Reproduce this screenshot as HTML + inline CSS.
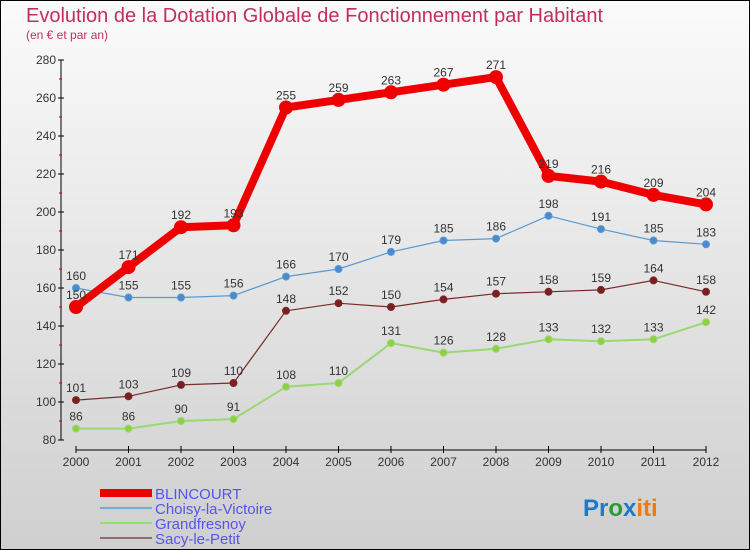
<!DOCTYPE html>
<html><head><meta charset="utf-8"><style>
body{margin:0;}
svg{display:block;font-family:"Liberation Sans",sans-serif;}
</style></head><body>
<svg id="c" width="750" height="550" viewBox="0 0 750 550">
<defs><linearGradient id="bg" x1="0" y1="0" x2="0" y2="1"><stop offset="0" stop-color="#fbfbfb"/><stop offset="1" stop-color="#cfcfcf"/></linearGradient></defs>
<rect x="0.5" y="0.5" width="749" height="549" fill="url(#bg)" stroke="#000"/>
<text x="26" y="22" font-size="20" fill="#c0305a">Evolution de la Dotation Globale de Fonctionnement par Habitant</text>
<text x="26" y="39" font-size="12" fill="#c0305a">(en € et par an)</text>
<g id="axes"></g>
<g id="series"></g>
<g>
<rect x="100" y="489" width="52" height="8" fill="#e00"/>
<text x="155" y="499" font-size="15" fill="#5555ee">BLINCOURT</text>
<line x1="100" y1="508" x2="152" y2="508" stroke="#7aaad0" stroke-width="2"/>
<text x="155" y="514" font-size="15" fill="#5555ee">Choisy-la-Victoire</text>
<line x1="100" y1="523" x2="152" y2="523" stroke="#90dd70" stroke-width="2"/>
<text x="155" y="529" font-size="15" fill="#5555ee">Grandfresnoy</text>
<line x1="100" y1="538" x2="152" y2="538" stroke="#9a6a6a" stroke-width="2"/>
<text x="155" y="544" font-size="15" fill="#5555ee">Sacy-le-Petit</text>
</g>
<text x="583" y="516" font-size="24" font-weight="bold"><tspan fill="#1a7ad0">Pr</tspan><tspan fill="#2a9a3a">o</tspan><tspan fill="#1a7ad0">x</tspan><tspan fill="#f07a10">iti</tspan></text>
</svg>
<script>
const years=[2000,2001,2002,2003,2004,2005,2006,2007,2008,2009,2010,2011,2012];
const yTicks=[80,100,120,140,160,180,200,220,240,260,280];
const blincourt=[150,171,192,193,255,259,263,267,271,219,216,209,204];
const choisy=[160,155,155,156,166,170,179,185,186,198,191,185,183];
const grandfresnoy=[86,86,90,91,108,110,131,126,128,133,132,133,142];
const sacy=[101,103,109,110,148,152,150,154,157,158,159,164,158];
const NS="http://www.w3.org/2000/svg";
function xs(i){return 76+i*(706-76)/(years.length-1);}
function ys(v){return 440-(v-80)*(380/200);}
function mk(t,a,p){const e=document.createElementNS(NS,t);for(const k in a)e.setAttribute(k,a[k]);p.appendChild(e);return e;}
const ax=document.getElementById('axes');
const yl=mk('line',{x1:61,y1:60,x2:61,y2:440,stroke:'#000'},ax);


yTicks.forEach(v=>{
 mk('line',{x1:58,x2:64,y1:ys(v),y2:ys(v),stroke:'#000'},ax);
 if(v<280) mk('line',{x1:59,x2:62,y1:ys(v+10),y2:ys(v+10),stroke:'#c00'},ax);
 const t=mk('text',{x:56,y:ys(v)+4,'font-size':12,'text-anchor':'end',fill:'#333'},ax);
 t.textContent=v;
 
 
});
const xl=mk('line',{x1:76,y1:450,x2:706,y2:450,stroke:'#000'},ax);


years.forEach((y,i)=>{
 mk('line',{x1:xs(i),x2:xs(i),y1:446,y2:453,stroke:'#000'},ax);
 const t=mk('text',{x:xs(i),y:466,'font-size':12,'text-anchor':'middle',fill:'#333'},ax);
 t.textContent=y;
 
 
});
const sg=document.getElementById('series');
function series(vals,color,w,r,dot,name){
 const g=mk('g',{},sg);
 
 
 const l=mk('polyline',{points:vals.map((v,i)=>xs(i)+','+ys(v)).join(' '),fill:'none',stroke:color,'stroke-width':w,'stroke-linejoin':'round'},g);
 
 
 vals.forEach((v,i)=>{
  const c=mk('circle',{cx:xs(i),cy:ys(v),r:r,fill:dot,stroke:color,'stroke-width':1},g);
  
  
  const t=mk('text',{x:xs(i),y:ys(v)-8,'font-size':12,'text-anchor':'middle',fill:'#333'},g);
  t.textContent=v;
  
  
 });
}
series(grandfresnoy,'#9ad870',2,3.5,'#8ed040','grandfresnoy');
series(sacy,'#7a2a2a',1.2,3.5,'#7a2020','sacy');
series(choisy,'#5a9ad0',1.2,3.5,'#4a8ad0','choisy');
series(blincourt,'#ee0000',8,6.5,'#ee0000','blincourt');
</script>
</body></html>
